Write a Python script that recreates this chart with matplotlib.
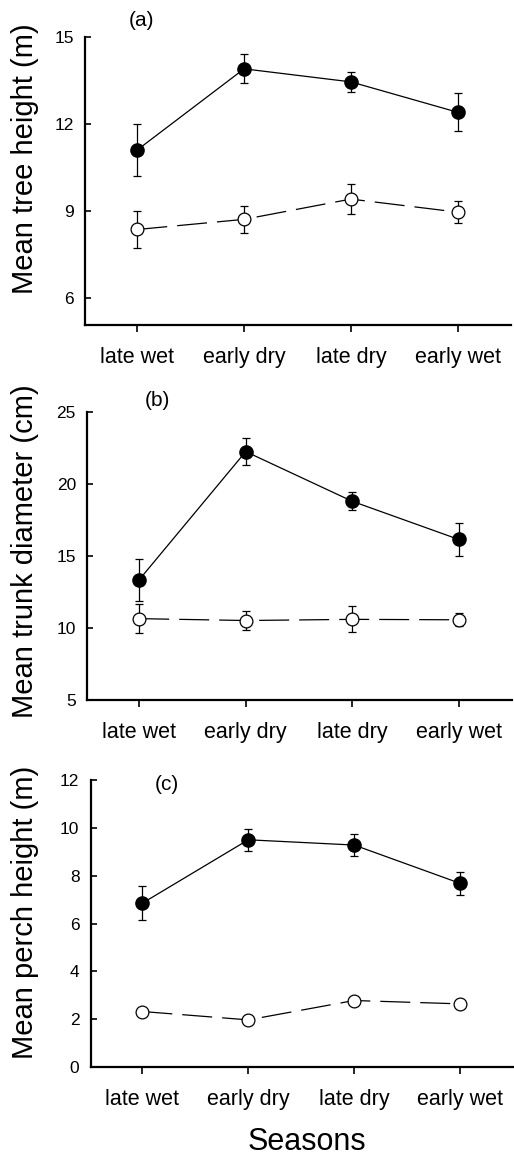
import matplotlib
matplotlib.use("Agg")
import matplotlib.pyplot as plt

plt.rcParams['font.family'] = ['Liberation Sans', 'DejaVu Sans']

seasons = ["late wet", "early dry", "late dry", "early wet"]

# (a) Mean tree height (m)
tree_filled = [11.1, 13.9, 13.45, 12.4]
tree_filled_err = [0.9, 0.5, 0.35, 0.65]
tree_open = [8.35, 8.7, 9.4, 8.95]
tree_open_err = [0.65, 0.47, 0.53, 0.38]

# (b) Mean trunk diameter (cm)
trunk_filled = [13.35, 22.25, 18.8, 16.15]
trunk_filled_err = [1.45, 0.95, 0.63, 1.12]
trunk_open = [10.65, 10.52, 10.6, 10.57]
trunk_open_err = [1.0, 0.67, 0.9, 0.45]

# (c) Mean perch height (m)
perch_filled = [6.85, 9.5, 9.28, 7.68]
perch_filled_err = [0.7, 0.47, 0.46, 0.47]
perch_open = [2.32, 1.97, 2.78, 2.64]
perch_open_err = [0.12, 0.12, 0.12, 0.12]

W, H = 514, 1160
fig = plt.figure(figsize=(W / 100, H / 100), dpi=100)

panels = [
    dict(box=(85, 37, 511, 325), filled=tree_filled, ferr=tree_filled_err,
         opn=tree_open, oerr=tree_open_err, ylim=(5.05, 15), yticks=[6, 9, 12, 15],
         ylabel="Mean tree height (m)", ylab_y=159, tag="(a)", tag_xy=(141, 20)),
    dict(box=(87, 412, 512, 700), filled=trunk_filled, ferr=trunk_filled_err,
         opn=trunk_open, oerr=trunk_open_err, ylim=(5, 25), yticks=[5, 10, 15, 20, 25],
         ylabel="Mean trunk diameter (cm)", ylab_y=551, tag="(b)", tag_xy=(157, 401)),
    dict(box=(90.5, 780, 513, 1067), filled=perch_filled, ferr=perch_filled_err,
         opn=perch_open, oerr=perch_open_err, ylim=(0, 12), yticks=[0, 2, 4, 6, 8, 10, 12],
         ylabel="Mean perch height (m)", ylab_y=912, tag="(c)", tag_xy=(167, 784)),
]

x = list(range(len(seasons)))
for p in panels:
    l, t, r, b = p["box"]
    ax = fig.add_axes([l / W, 1 - b / H, (r - l) / W, (b - t) / H])
    ax.errorbar(x, p["filled"], yerr=p["ferr"], fmt="-o", color="black",
                lw=0.9, elinewidth=0.9, capsize=2.6, capthick=0.9,
                markersize=9.5, markerfacecolor="black", markeredgecolor="black", zorder=3)
    ax.errorbar(x, p["opn"], yerr=p["oerr"], fmt="o", linestyle=(0, (24, 8)), color="black",
                lw=0.9, elinewidth=0.9, capsize=2.6, capthick=0.9,
                markersize=9.2, markerfacecolor="white", markeredgecolor="black",
                markeredgewidth=0.9, zorder=3)
    ax.set_xlim(-0.49, 3.5)
    ax.set_ylim(*p["ylim"])
    ax.set_yticks(p["yticks"])
    ax.set_xticks(x)
    ax.set_xticklabels(seasons, fontsize=15.5)
    ax.tick_params(axis="y", labelsize=12.5, direction="in", length=4, width=1.2, pad=8)
    ax.tick_params(axis="x", direction="out", length=5, width=1.2, pad=11)
    for s in ["top", "right"]:
        ax.spines[s].set_visible(False)
    for s in ["left", "bottom"]:
        ax.spines[s].set_linewidth(1.6)
    fig.text(25 / W, 1 - p["ylab_y"] / H, p["ylabel"], rotation=90,
             ha="center", va="center", fontsize=21)
    fig.text(p["tag_xy"][0] / W, 1 - p["tag_xy"][1] / H, p["tag"],
             ha="center", va="center", fontsize=15)

fig.text(307 / W, 1 - 1142 / H, "Seasons", ha="center", va="center", fontsize=22)

fig.savefig("out.png", dpi=100)
